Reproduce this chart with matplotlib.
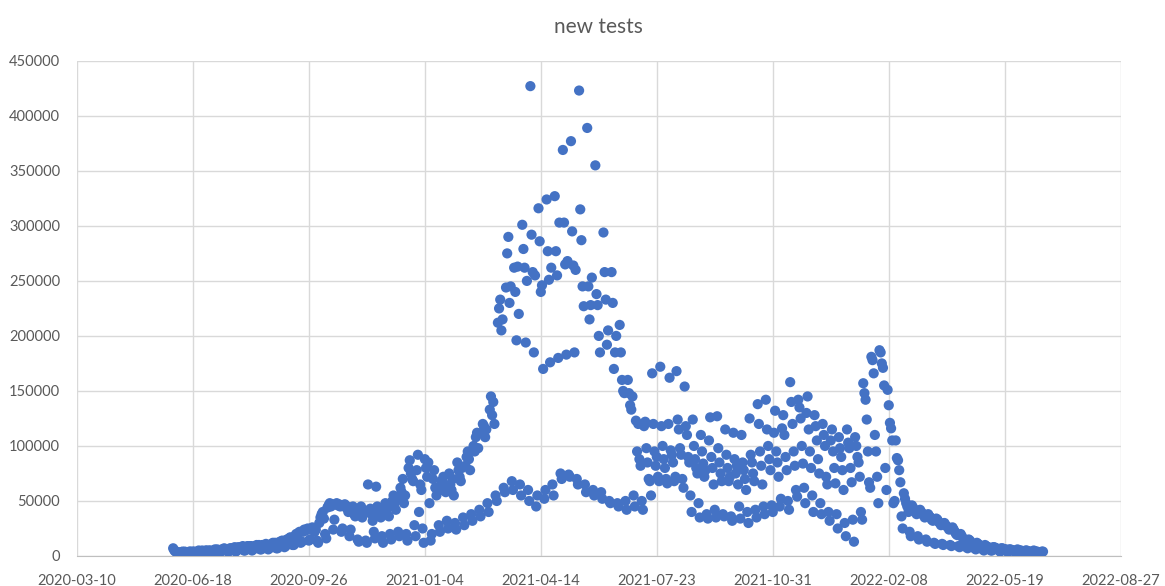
import numpy as np
import pandas as pd
import matplotlib
matplotlib.use('Agg')
import matplotlib.pyplot as plt
import matplotlib.dates as mdates

''' Data: daily new tests (thousands), one row per week, starting Mon 2020-06-01 '''
start_date = '2020-06-01'

tests_2020 = [
    7, 5, 4, 4, 3, 3, 3,
    3, 4, 3, 4, 3, 2, 2,
    4, 4, 3, 4, 4, 2, 3,
    4, 5, 4, 4, 5, 3, 3,
    5, 5, 4, 5, 5, 3, 3,
    5, 6, 5, 6, 5, 3, 4,
    6, 6, 7, 6, 6, 4, 4,
    7, 7, 6, 7, 8, 4, 5,
    8, 7, 8, 8, 9, 5, 5,
    8, 9, 8, 9, 9, 5, 6,
    9, 9, 10, 9, 10, 6, 6,
    10, 9, 10, 11, 10, 6, 7,
    10, 11, 12, 11, 12, 7, 7,
    12, 13, 12, 14, 13, 8, 9,
    15, 14, 16, 17, 16, 10, 10,
    18, 20, 19, 21, 22, 12, 13,
    22, 24, 23, 24, 25, 14, 15,
    24, 26, 25, 22, 24, 14, 12,
    30, 35, 38, 40, 34, 20, 16,
    44, 46, 48, 45, 47, 24, 33,
    47, 48, 46, 47, 45, 22, 25,
    46, 47, 44, 45, 40, 18, 24,
    42, 45, 38, 36, 40, 15, 13,
    40, 45, 35, 38, 40, 14, 12,
    65, 40, 43, 38, 32, 22, 16,
    63, 45, 38, 40, 35, 18, 12,
    42, 48, 38, 44, 36, 20, 15,
    50, 55, 48, 42, 52, 22, 18,
    62, 58, 70, 48, 55, 20, 14,
    80, 87, 75, 70, 68, 28, 18,
    78, 92, 40, 65, 60, 25, 12,
]

tests_2021_h1 = [
    88, 80, 72, 85, 48, 14, 20,
    70, 78, 62, 55, 60, 28, 22,
    68, 60, 72, 65, 58, 32, 25,
    75, 65, 60, 70, 55, 30, 24,
    85, 78, 72, 68, 80, 35, 28,
    82, 90, 95, 88, 78, 38, 32,
    100, 95, 108, 112, 98, 42, 36,
    112, 120, 118, 108, 115, 48, 40,
    133, 145, 128, 140, 120, 55, 50,
    212, 225, 233, 205, 215, 62, 58,
    244, 275, 290, 230, 245, 68, 60,
    262, 240, 196, 263, 220, 65, 55,
    301, 279, 262, 194, 250, 60, 50,
    427, 292, 258, 185, 255, 45, 55,
    316, 286, 240, 246, 170, 52, 60,
    324, 277, 251, 176, 262, 65, 55,
    327, 277, 255, 180, 303, 75, 70,
    369, 303, 265, 183, 268, 74, 72,
    377, 295, 264, 185, 260, 70, 65,
    423, 315, 287, 245, 227, 65, 58,
    389, 245, 215, 228, 253, 60, 55,
    355, 238, 228, 200, 185, 58, 52,
    294, 258, 233, 192, 205, 50, 48,
    258, 230, 170, 185, 200, 48, 45,
    210, 185, 160, 150, 148, 50, 42,
    160, 148, 137, 133, 145, 55, 45,
]

tests_2021_h2 = [
    123, 95, 120, 88, 82, 50, 42,
    118, 122, 98, 85, 70, 68, 55,
    166, 120, 95, 82, 90, 72, 68,
    172, 118, 100, 88, 80, 70, 66,
    120, 162, 96, 92, 85, 68, 72,
    168, 124, 115, 98, 92, 70, 62,
    154, 118, 110, 90, 85, 55, 40,
    124, 100, 88, 80, 75, 48, 35,
    110, 95, 84, 72, 78, 38, 34,
    105, 126, 90, 80, 65, 42, 35,
    127, 98, 85, 75, 68, 38, 36,
    115, 92, 80, 68, 72, 36, 32,
    112, 88, 75, 82, 65, 45, 34,
    110, 85, 78, 70, 60, 40, 30,
    125, 92, 85, 75, 68, 42, 35,
    138, 120, 95, 82, 65, 45, 38,
    142, 115, 100, 88, 78, 46, 40,
    112, 132, 95, 85, 72, 45, 52,
    116, 128, 110, 90, 78, 50, 42,
    158, 140, 120, 95, 82, 60, 54,
    142, 135, 125, 100, 84, 62, 48,
    130, 145, 115, 95, 80, 55, 40,
    128, 118, 105, 88, 75, 48, 38,
    120, 110, 100, 72, 65, 40, 32,
    105, 115, 95, 80, 66, 38, 25,
    108, 98, 90, 78, 60, 30, 18,
    115, 103, 98, 80, 67, 33, 13,
]

tests_2022 = [
    108, 100, 90, 85, 72, 40, 33,
    157, 148, 142, 124, 95, 67, 62,
    181, 178, 166, 110, 95, 72, 48,
    187, 185, 175, 171, 155, 80, 60,
    151, 137, 121, 116, 105, 48, 50,
    105, 89, 87, 78, 67, 36, 25,
    57, 52, 48, 45, 40, 22, 18,
    46, 44, 42, 40, 38, 18, 15,
    42, 40, 38, 38, 35, 15, 13,
    38, 36, 35, 33, 32, 12, 11,
    34, 33, 31, 30, 28, 11, 10,
    30, 28, 27, 26, 24, 10, 9,
    26, 24, 22, 20, 19, 9, 8,
    20, 18, 16, 15, 14, 8, 7,
    15, 14, 12, 11, 10, 7, 6,
    12, 11, 10, 9, 9, 6, 5,
    10, 9, 8, 8, 7, 5, 5,
    8, 8, 7, 7, 6, 5, 4,
    7, 7, 6, 6, 6, 4, 4,
    6, 6, 5, 5, 5, 4, 3,
    6, 5, 5, 5, 4, 3, 3,
    5, 5, 4, 4, 4, 3, 3,
    5, 4, 4, 4, 3, 3, 3,
    4, 4,
]

''' Build series '''
values = np.array(tests_2020 + tests_2021_h1 + tests_2021_h2 + tests_2022) * 1000
dates = pd.date_range(start_date, periods=len(values), freq='D')

''' Plot '''
plt.rcParams['font.family'] = ['Lato', 'DejaVu Sans']
fig = plt.figure(figsize=(11.65, 5.86), dpi=100)
ax = fig.add_axes([0.066, 0.0512, 0.896, 0.845])

ax.scatter(dates, values, s=54, color='#4472C4', edgecolors='none', zorder=3)

x0 = pd.Timestamp('2020-03-10')
ax.set_xlim(x0, x0 + pd.Timedelta(days=900))
ax.set_xticks([x0 + pd.Timedelta(days=100 * i) for i in range(10)])
ax.xaxis.set_major_formatter(mdates.DateFormatter('%Y-%m-%d'))
ax.set_ylim(0, 450000)
ax.set_yticks(range(0, 450001, 50000))

ax.grid(True, color='#D9D9D9', linewidth=1, zorder=0)
for s in ['top', 'right', 'left']:
    ax.spines[s].set_visible(False)
ax.spines['bottom'].set_color('#BFBFBF')
ax.tick_params(length=0, labelsize=10.5, colors='#595959')
ax.tick_params(axis='x', pad=13)
ax.tick_params(axis='y', pad=12)

ax.set_title('new tests', fontsize=15, color='#595959', pad=20)

plt.savefig('out.png', dpi=100)
